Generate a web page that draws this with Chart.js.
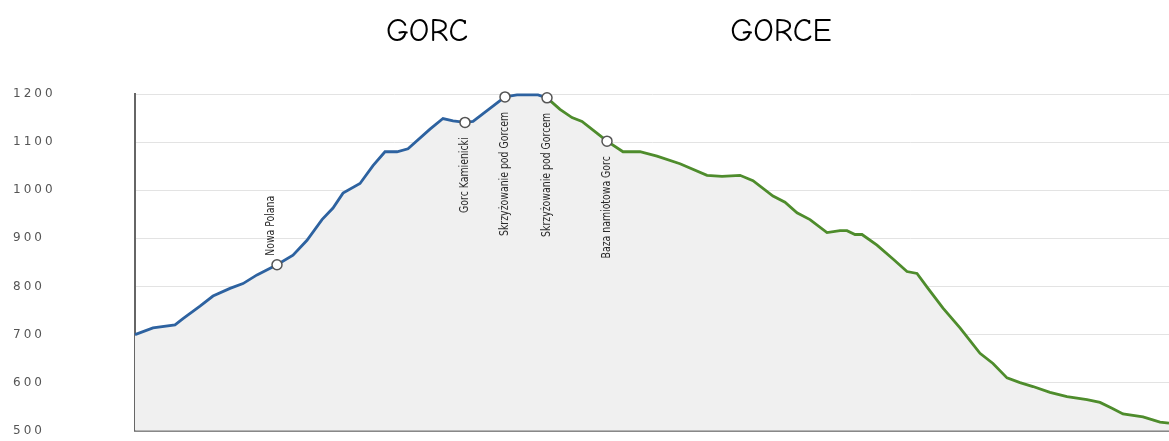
<!DOCTYPE html>
<html lang="pl">
<head>
    <meta charset="UTF-8">
    <title>Gorc - profil trasy</title>
    <script src="https://cdn.jsdelivr.net/npm/chart.js"></script>
    <style>
        body { margin: 0; background: #fff; }
        .wrap { position: relative; width: 1169px; height: 441px; overflow: hidden; }
        .title {
            position: absolute; top: 15px; line-height: 32px;
            font-family: "Comic Sans MS", "Comic Neue", "DejaVu Sans Condensed", sans-serif;
            font-size: 32px; color: #000; transform: translateX(-50%); white-space: nowrap;
        }
        #profile { position: absolute; left: 0; top: 0; }
    </style>
</head>
<body>
<div class="wrap">
    <canvas id="profile" width="1169" height="441"></canvas>
    <div class="title" style="left:427px">GORC</div>
    <div class="title" style="left:781px">GORCE</div>
</div>

<script>
    // dystans (km) i wysokość (m n.p.m.)
    const distance = [
        0.00, 0.18, 0.40, 0.48, 0.65, 0.78, 0.95, 1.08, 1.22, 1.42,
        1.58, 1.72, 1.87, 1.98, 2.08, 2.25, 2.38, 2.50, 2.62, 2.73,
        2.95, 3.08, 3.18, 3.30, 3.38, 3.55, 3.70, 3.82, 4.03, 4.12,
        4.25, 4.37, 4.47, 4.60, 4.72, 4.88, 5.05, 5.22, 5.45, 5.72,
        5.87, 6.05, 6.18, 6.38, 6.50, 6.62, 6.75, 6.92, 7.05, 7.12,
        7.20, 7.27, 7.42, 7.58, 7.72, 7.82, 7.93, 8.08, 8.25, 8.45,
        8.58, 8.72, 8.85, 8.98, 9.15, 9.32, 9.52, 9.65, 9.77, 9.88,
        10.08, 10.25, 10.34
    ];
    const elevation = [
        700, 714, 720, 733, 759, 780, 796, 806, 824, 845,
        865, 896, 939, 963, 994, 1014, 1051, 1080, 1080, 1086,
        1127, 1149, 1144, 1141, 1143, 1170, 1194, 1198, 1198, 1192,
        1168, 1151, 1143, 1122, 1102, 1080, 1080, 1071, 1055, 1031,
        1029, 1031, 1020, 988, 975, 953, 939, 912, 916, 916,
        908, 908, 886, 857, 831, 827, 796, 755, 714, 661,
        640, 610, 600, 592, 580, 571, 565, 559, 547, 535,
        529, 518, 516
    ];
    const yTicks = [500, 600, 700, 800, 900, 1000, 1100, 1200];

    // punkty na trasie
    const waypointX = [1.42, 3.30, 3.70, 4.12, 4.72];
    const waypointNames = ['Nowa Polana', 'Gorc Kamienicki', 'Skrzyżowanie pod Gorcem', 'Skrzyżowanie pod Gorcem', 'Baza namiotowa Gorc'];
    const waypointSide = ['above', 'below', 'below', 'below', 'below'];

    const splitX = 4.12; // od tego miejsca zielony odcinek
    const BLUE = '#2d62a0';
    const GREEN = '#4e8c2c';

    const isWaypoint = i => waypointX.includes(distance[i]);

    // napisy przy punktach
    const waypointLabels = {
        id: 'waypointLabels',
        beforeDraw(chart) { chart.ctx.letterSpacing = '3px'; },
        beforeDatasetsDraw(chart) { chart.ctx.letterSpacing = '0px'; },
        afterDatasetsDraw(chart) {
            const ctx = chart.ctx;
            const meta = chart.getDatasetMeta(0);
            ctx.save();
            ctx.font = '13px "Liberation Sans Narrow", "DejaVu Sans Condensed", sans-serif';
            ctx.fillStyle = '#2a2a2a';
            ctx.textBaseline = 'middle';
            waypointX.forEach((wx, k) => {
                const idx = distance.indexOf(wx);
                const pt = meta.data[idx];
                ctx.save();
                if (waypointSide[k] === 'above') {
                    ctx.translate(pt.x - 6, pt.y - 9);
                    ctx.rotate(-Math.PI / 2);
                    ctx.textAlign = 'left';
                } else {
                    ctx.translate(pt.x, pt.y + 15);
                    ctx.rotate(-Math.PI / 2);
                    ctx.textAlign = 'right';
                }
                ctx.scale(0.8, 1);
                ctx.fillText(waypointNames[k], 0, 0);
                ctx.restore();
            });
            ctx.restore();
        }
    };

    new Chart(document.getElementById('profile'), {
        type: 'line',
        data: {
            datasets: [{
                data: distance.map((d, i) => ({ x: d, y: elevation[i] })),
                borderWidth: 2.8,
                borderColor: BLUE,
                segment: {
                    borderColor: c => c.p0.parsed.x >= splitX ? GREEN : BLUE
                },
                fill: 'start',
                backgroundColor: '#f0f0f0',
                tension: 0,
                clip: 8,
                pointRadius: c => isWaypoint(c.dataIndex) ? 5 : 0,
                pointHoverRadius: 0,
                pointBackgroundColor: '#fff',
                pointBorderColor: '#555',
                pointBorderWidth: 1.5
            }]
        },
        options: {
            responsive: false,
            animation: false,
            events: [],
            layout: { padding: { left: 13, top: 94, right: 0, bottom: 4 } },
            plugins: { legend: { display: false }, tooltip: { enabled: false } },
            scales: {
                x: {
                    type: 'linear',
                    min: 0,
                    max: 10.34,
                    ticks: { display: false },
                    grid: { display: false, drawTicks: false },
                    border: { display: true, color: '#888', width: 2 },
                    afterFit: s => { s.height = 0; }
                },
                y: {
                    min: 500,
                    max: 1200,
                    afterBuildTicks: s => { s.ticks = yTicks.map(v => ({ value: v })); },
                    ticks: {
                        crossAlign: 'far',
                        color: '#555',
                        font: { family: '"DejaVu Sans", sans-serif', size: 12 },
                        callback: v => String(v)
                    },
                    grid: { color: '#e3e3e3', lineWidth: 1, drawTicks: false },
                    border: { display: true, color: '#666', width: 2 },
                    afterFit: s => { s.width = 122; }
                }
            }
        },
        plugins: [waypointLabels]
    });
</script>
</body>
</html>
